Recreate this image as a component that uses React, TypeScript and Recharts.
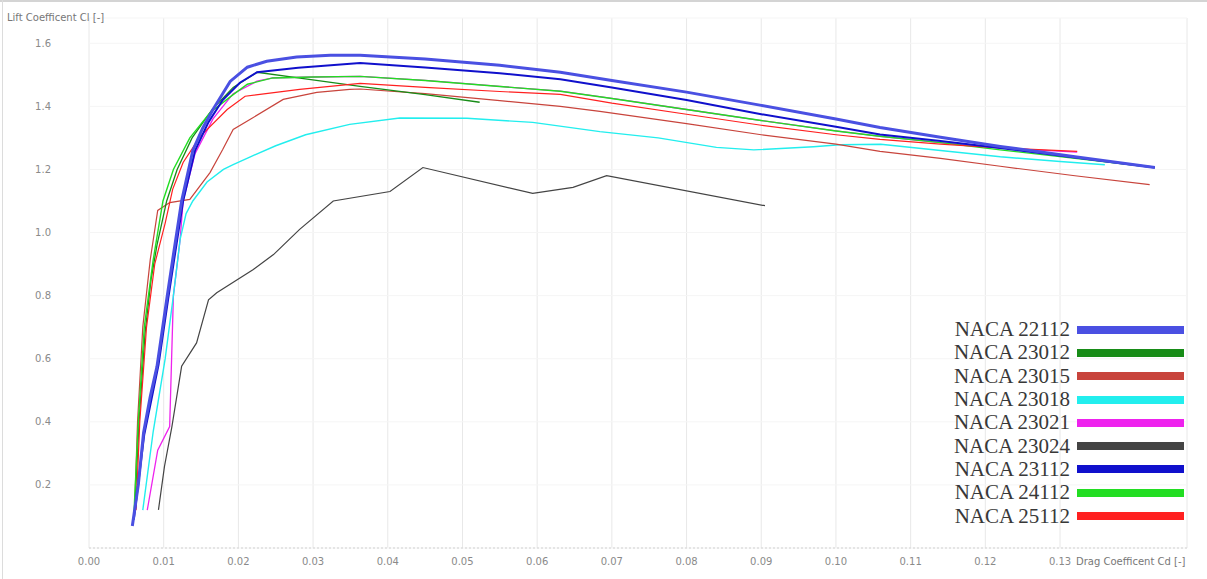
import React from 'react';
import { LineChart, Line, XAxis, YAxis, CartesianGrid } from 'recharts';

// each point is [Cd, Cl]
type Pt = [number, number];

const cdTicks = [0, 0.01, 0.02, 0.03, 0.04, 0.05, 0.06, 0.07, 0.08, 0.09, 0.1, 0.11, 0.12, 0.13];
const clTicks = [0.2, 0.4, 0.6, 0.8, 1.0, 1.2, 1.4, 1.6];

const naca22112: Pt[] = [
  [0.0058, 0.07], [0.0066, 0.2], [0.0073, 0.365], [0.0082, 0.48], [0.0091, 0.575], [0.0104, 0.787],
  [0.0112, 0.914], [0.0124, 1.1], [0.0139, 1.26], [0.0152, 1.33], [0.0166, 1.39], [0.0189, 1.479],
  [0.0212, 1.524], [0.0238, 1.543], [0.0278, 1.556], [0.0323, 1.562], [0.0363, 1.562], [0.045, 1.55],
  [0.055, 1.53], [0.0631, 1.508], [0.07, 1.482], [0.08, 1.445], [0.09, 1.403], [0.1, 1.36],
  [0.1059, 1.333], [0.114, 1.302], [0.122, 1.273], [0.132, 1.24], [0.1427, 1.206],
];

const naca23012: Pt[] = [
  [0.0061, 0.11], [0.0067, 0.4], [0.0075, 0.68], [0.0083, 0.85], [0.0091, 0.96], [0.0104, 1.1],
  [0.0118, 1.2], [0.0138, 1.3], [0.0165, 1.39], [0.0193, 1.46], [0.0225, 1.508], [0.028, 1.49],
  [0.0363, 1.463], [0.045, 1.437], [0.0523, 1.413],
];

const naca23015: Pt[] = [
  [0.0061, 0.12], [0.0065, 0.4], [0.0072, 0.7], [0.0082, 0.914], [0.0092, 1.07], [0.0108, 1.095],
  [0.0135, 1.105], [0.0162, 1.19], [0.0179, 1.263], [0.0193, 1.327], [0.0216, 1.359], [0.026, 1.422],
  [0.0305, 1.444], [0.0349, 1.454], [0.0363, 1.455], [0.045, 1.44], [0.055, 1.418], [0.0631, 1.4],
  [0.0684, 1.384], [0.08, 1.345], [0.09, 1.31], [0.1, 1.28], [0.1059, 1.257], [0.114, 1.235],
  [0.122, 1.21], [0.132, 1.18], [0.142, 1.152],
];

const naca23018: Pt[] = [
  [0.0072, 0.12], [0.0086, 0.37], [0.0102, 0.6], [0.0113, 0.8], [0.0122, 0.978], [0.013, 1.06],
  [0.0139, 1.1], [0.0158, 1.16], [0.018, 1.2], [0.0193, 1.215], [0.0216, 1.24], [0.025, 1.275],
  [0.029, 1.31], [0.0349, 1.343], [0.0416, 1.363], [0.0506, 1.362], [0.0594, 1.349], [0.0684, 1.32],
  [0.0762, 1.3], [0.084, 1.27], [0.089, 1.262], [0.097, 1.272], [0.1005, 1.278], [0.106, 1.28],
  [0.114, 1.26], [0.122, 1.24], [0.13, 1.225], [0.136, 1.215],
];

const naca23021: Pt[] = [
  [0.0078, 0.12], [0.0092, 0.31], [0.0108, 0.385], [0.0113, 0.8], [0.0122, 0.978],
  [0.0126, 1.1], [0.0142, 1.25], [0.0166, 1.36], [0.0193, 1.44], [0.0225, 1.48], [0.0246, 1.49],
  [0.03, 1.493], [0.0363, 1.495], [0.045, 1.482], [0.055, 1.463], [0.0631, 1.448], [0.07, 1.425],
  [0.08, 1.39], [0.09, 1.355], [0.1, 1.322], [0.1059, 1.305], [0.114, 1.285], [0.122, 1.268],
  [0.1323, 1.255],
];

const naca23024: Pt[] = [
  [0.0093, 0.121], [0.0101, 0.258], [0.0111, 0.385], [0.0124, 0.576], [0.0144, 0.65], [0.016, 0.787],
  [0.0171, 0.809], [0.022, 0.883], [0.0247, 0.93], [0.0282, 1.01], [0.0327, 1.1], [0.0403, 1.13],
  [0.0447, 1.206], [0.0594, 1.124], [0.0648, 1.143], [0.0693, 1.18], [0.0905, 1.085],
];

const naca23112: Pt[] = [
  [0.006, 0.09], [0.0074, 0.36], [0.0093, 0.58], [0.0106, 0.79], [0.0114, 0.914], [0.0126, 1.1],
  [0.0142, 1.26], [0.016, 1.35], [0.0179, 1.42], [0.0202, 1.475], [0.0225, 1.508], [0.028, 1.522],
  [0.0363, 1.537], [0.045, 1.523], [0.055, 1.505], [0.0631, 1.486], [0.07, 1.46], [0.08, 1.42],
  [0.09, 1.375], [0.1, 1.335], [0.1059, 1.311], [0.114, 1.29], [0.122, 1.268], [0.132, 1.238],
  [0.1427, 1.206],
];

const naca24112: Pt[] = [
  [0.006, 0.1], [0.0066, 0.4], [0.0074, 0.7], [0.0086, 0.914], [0.0099, 1.1], [0.0113, 1.2],
  [0.0135, 1.3], [0.0162, 1.38], [0.0189, 1.43], [0.0212, 1.47], [0.0246, 1.49], [0.03, 1.493],
  [0.0363, 1.495], [0.045, 1.482], [0.055, 1.463], [0.0631, 1.448], [0.07, 1.425], [0.08, 1.39],
  [0.09, 1.355], [0.1, 1.322], [0.1059, 1.305], [0.114, 1.285], [0.122, 1.262], [0.132, 1.235],
  [0.1427, 1.206],
];

const naca25112: Pt[] = [
  [0.0063, 0.12], [0.0068, 0.4], [0.0077, 0.7], [0.0088, 0.9], [0.0102, 1.03], [0.0112, 1.137],
  [0.0126, 1.222], [0.0149, 1.305], [0.0185, 1.39], [0.0209, 1.432], [0.0282, 1.454], [0.0363, 1.473],
  [0.045, 1.46], [0.055, 1.447], [0.0631, 1.438], [0.07, 1.41], [0.08, 1.375], [0.09, 1.34],
  [0.1, 1.31], [0.1059, 1.295], [0.114, 1.28], [0.122, 1.268], [0.1323, 1.257],
];

const series = [
  { name: 'NACA 22112', points: naca22112, color: '#4a50e2', width: 3 },
  { name: 'NACA 23012', points: naca23012, color: '#178c17', width: 1.3 },
  { name: 'NACA 23015', points: naca23015, color: '#c8443c', width: 1.2 },
  { name: 'NACA 23018', points: naca23018, color: '#22eeee', width: 1.4 },
  { name: 'NACA 23021', points: naca23021, color: '#ee22ee', width: 1.3 },
  { name: 'NACA 23024', points: naca23024, color: '#444444', width: 1.2 },
  { name: 'NACA 23112', points: naca23112, color: '#1010cc', width: 2 },
  { name: 'NACA 24112', points: naca24112, color: '#22dd22', width: 1.4 },
  { name: 'NACA 25112', points: naca25112, color: '#ff2020', width: 1.2 },
];

// bottom first
const drawOrder = [
  'NACA 23021', 'NACA 23024', 'NACA 23018', 'NACA 23015', 'NACA 23012',
  'NACA 24112', 'NACA 25112', 'NACA 23112', 'NACA 22112',
];

const tickStyle = { fontSize: 10, fill: '#8a8a8a', fontFamily: 'DejaVu Sans' };

const ChartLegend = () => (
  <div style={{ position: 'absolute', left: 930, top: 318, fontFamily: '"Liberation Serif", serif' }}>
    {series.map((s) => (
      <div key={s.name} style={{ display: 'flex', alignItems: 'center', height: 23.3 }}>
        <span style={{ width: 140, textAlign: 'right', fontSize: 21, color: '#383838', lineHeight: '23px' }}>
          {s.name}
        </span>
        <span style={{ width: 107, height: 8, marginLeft: 7, background: s.color }} />
      </div>
    ))}
  </div>
);

export default function App() {
  const ordered = drawOrder.map((n) => series.find((s) => s.name === n)!);
  return (
    <div style={{ position: 'relative', width: 1207, height: 579, background: '#fff', overflow: 'hidden' }}>
      <style>{'body{margin:0}'}</style>
      <LineChart width={1207} height={579} margin={{ top: 18, right: 20, bottom: 1, left: 28 }}>
        <CartesianGrid horizontal={false} stroke="#e8e8e8" />
        <CartesianGrid vertical={false} stroke="#f5f5f5" />
        <XAxis
          type="number"
          dataKey="cd"
          domain={[0, 0.147]}
          ticks={cdTicks}
          allowDataOverflow
          height={30}
          tickLine={false}
          tickMargin={4}
          axisLine={{ stroke: '#d0d0d0', strokeDasharray: '2 2' }}
          tick={tickStyle}
          tickFormatter={(v: number) => v.toFixed(2)}
        />
        <YAxis
          type="number"
          domain={[0, 1.68]}
          ticks={clTicks}
          allowDataOverflow
          width={61}
          tickLine={false}
          axisLine={false}
          tickMargin={32}
          tick={tickStyle}
          tickFormatter={(v: number) => v.toFixed(1)}
        />
        {ordered.map((s) => (
          <Line
            key={s.name}
            name={s.name}
            data={s.points.map(([cd, cl]) => ({ cd, cl }))}
            dataKey="cl"
            type="linear"
            stroke={s.color}
            strokeWidth={s.width}
            dot={false}
            activeDot={false}
            isAnimationActive={false}
          />
        ))}
      </LineChart>
      <div style={{ position: 'absolute', left: 0, top: 0, width: 1207, height: 2, background: '#d4d4d4' }} />
      <div style={{ position: 'absolute', left: 2, top: 0, width: 1, height: 579, background: '#dcdcdc' }} />
      <div style={{ position: 'absolute', left: 7, top: 12, fontSize: 10, color: '#777', fontFamily: 'DejaVu Sans' }}>
        Lift Coefficent Cl [-]
      </div>
      <div style={{ position: 'absolute', left: 1076, top: 556, fontSize: 10, color: '#777', fontFamily: 'DejaVu Sans' }}>
        Drag Coefficent Cd [-]
      </div>
      <ChartLegend />
    </div>
  );
}
